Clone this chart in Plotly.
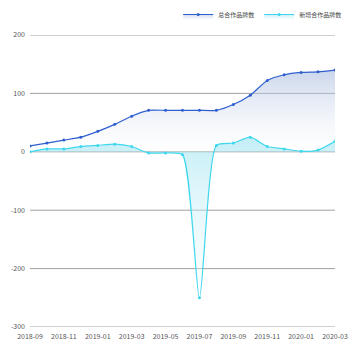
import plotly.graph_objects as go

months = ["2018-09", "2018-10", "2018-11", "2018-12", "2019-01", "2019-02", "2019-03",
          "2019-04", "2019-05", "2019-06", "2019-07", "2019-08", "2019-09", "2019-10",
          "2019-11", "2019-12", "2020-01", "2020-02", "2020-03"]
total_brands = [10, 15, 20, 25, 35, 47, 61, 71, 71, 71, 71, 71, 81, 97, 122, 132, 136, 137, 140]
new_brands = [0, 5, 5, 9, 11, 13, 9, -2, -2, -5, -250, 11, 15, 25, 9, 5, 1, 3, 18]
tick_labels = ["2018-09", "2018-11", "2019-01", "2019-03", "2019-05", "2019-07",
               "2019-09", "2019-11", "2020-01", "2020-03"]
y_ticks = [200, 100, 0, -100, -200, -300]

x_idx = list(range(len(months)))
tick_pos = [months.index(m) for m in tick_labels]

fig = go.Figure()
fig.add_trace(go.Scatter(
    x=x_idx, y=total_brands, name="总合作品牌数",
    mode="lines+markers", line=dict(color="#2f5fcf", width=1.2, shape="spline", smoothing=0.6),
    marker=dict(size=3, color="#2f5fcf"),
    fill="tozeroy",
    fillgradient=dict(type="vertical",
                      colorscale=[[0, "rgba(255,255,255,0.2)"], [1, "rgba(160,180,220,0.55)"]]),
))
fig.add_trace(go.Scatter(
    x=x_idx, y=new_brands, name="新增合作品牌数",
    mode="lines+markers", line=dict(color="#3fd7ee", width=1.2, shape="spline", smoothing=0.6),
    marker=dict(size=3, color="#3fd7ee"),
    fill="tozeroy",
    fillgradient=dict(type="vertical",
                      colorscale=[[0, "rgba(255,255,255,0.3)"], [1, "rgba(150,225,240,0.55)"]]),
))

# horizontal guide lines at each y tick, including the two range ends
for v in y_ticks:
    fig.add_hline(y=v, line=dict(color="#a0a0a0", width=1), layer="below")

fig.update_layout(
    width=350, height=350,
    margin=dict(l=30, r=15, t=35, b=23, autoexpand=False),
    paper_bgcolor="white", plot_bgcolor="white",
    font=dict(family="Noto Sans CJK SC, DejaVu Sans", size=7, color="#555"),
    showlegend=True,
    legend=dict(orientation="h", x=1.04, xanchor="right", yref="container", y=1.0, yanchor="top",
                font=dict(size=6, color="#444"), bgcolor="rgba(0,0,0,0)",
                tracegroupgap=0, itemwidth=30),
    xaxis=dict(range=[0, len(months) - 1], tickmode="array", tickvals=tick_pos,
               ticktext=tick_labels, showgrid=False, zeroline=False, showline=False,
               ticks="", ticklabelstandoff=4, tickfont=dict(size=7, color="#555"),
               fixedrange=True),
    yaxis=dict(range=[-300, 200], tickmode="array", tickvals=y_ticks,
               ticktext=[str(v) for v in y_ticks],
               showgrid=False, zeroline=False,
               tickfont=dict(size=7, color="#555"), ticks="", ticklabelstandoff=4,
               fixedrange=True),
)

fig.write_html("out.html")
